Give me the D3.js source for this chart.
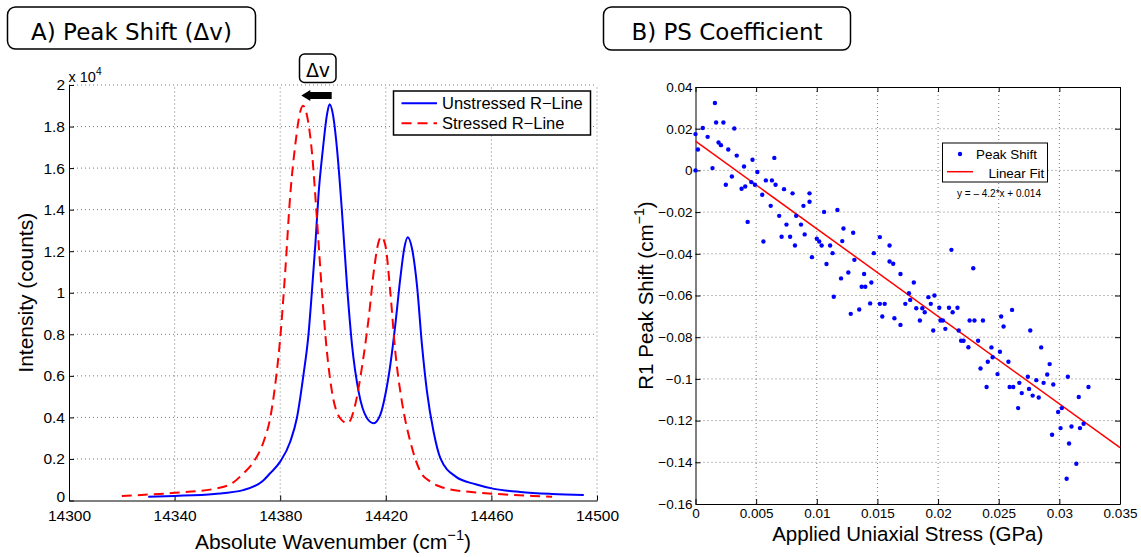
<!DOCTYPE html>
<html>
<head>
<meta charset="utf-8">
<script src="https://cdn.jsdelivr.net/npm/d3@7"></script>
<style>
  html, body { margin: 0; padding: 0; background: #fff; }
  svg { display: block; }
  text { font-family: "Liberation Sans", Arial, sans-serif; fill: #000; }
</style>
</head>
<body>
<script>
// A) spectra: wavenumber (cm^-1) vs intensity (counts)
const unstressedWn = [14330, 14340, 14355, 14366, 14373.5, 14376.2, 14380, 14383.8, 14386.3, 14388.8, 14390.7, 14392, 14393.3, 14394.5, 14396.2, 14397.7, 14398.7, 14400, 14401.5, 14403.4, 14405.3, 14407.2, 14409.7, 14412.9, 14415.4, 14417.9, 14419.8, 14421.7, 14423.6, 14425.5, 14427, 14428.3, 14429.9, 14431.8, 14433.7, 14435.6, 14438.1, 14440.7, 14446.5, 14454, 14461, 14471, 14483, 14495];
const unstressedCounts = [185, 222, 315, 500, 950, 1310, 1870, 2830, 3960, 6040, 7970, 10050, 12300, 14700, 16950, 18560, 19070, 18560, 16950, 13900, 10370, 7490, 5240, 3960, 3720, 4120, 5080, 6520, 8450, 10700, 12140, 12670, 12140, 10370, 7490, 5240, 3310, 2030, 1150, 780, 560, 410, 315, 260];
const stressedWn = [14320, 14340, 14355, 14362, 14366, 14370, 14373.7, 14376.2, 14378.1, 14380, 14381.9, 14383.8, 14385.7, 14387.6, 14388.6, 14390.1, 14392, 14393.9, 14395.8, 14397.7, 14399.6, 14402.7, 14405.5, 14408.4, 14410.9, 14413.5, 14415.6, 14417.3, 14418.3, 14419.8, 14421.7, 14423.6, 14426.1, 14429.3, 14433.1, 14436.9, 14440.7, 14443.6, 14452.3, 14464, 14475.7, 14483];
const stressedCounts = [222, 370, 560, 850, 1300, 1870, 2830, 3960, 5560, 7810, 11010, 14700, 17110, 18720, 19000, 18560, 16790, 13580, 10050, 7160, 5240, 3960, 3720, 4600, 6360, 8770, 11180, 12460, 12700, 12300, 10050, 7160, 4760, 2830, 1390, 905, 664, 555, 407, 297, 222, 185];
const wnTicks = [14300, 14340, 14380, 14420, 14460, 14500];
const countTicks = [0, 0.2, 0.4, 0.6, 0.8, 1, 1.2, 1.4, 1.6, 1.8, 2]; // x 10^4
const countTickLabels = ["0", "0.2", "0.4", "0.6", "0.8", "1", "1.2", "1.4", "1.6", "1.8", "2"];
// shift arrow (blue peak -> red peak)
const arrowFromWn = 14399.5, arrowToWn = 14388, arrowCounts = 19500;

// B) R1 peak shift vs applied stress
const stress = [0, 0.0002, 0, 0.0006, 0.001, 0.0016, 0.0017, 0.0019, 0.0021, 0.0023, 0.0014, 0.0027, 0.0025, 0.003, 0.0032, 0.0034, 0.0038, 0.004, 0.0041, 0.0043, 0.0046, 0.0047, 0.0049, 0.0051, 0.0055, 0.0056, 0.0058, 0.0063, 0.0065, 0.0062, 0.0066, 0.0069, 0.0073, 0.0075, 0.0071, 0.0078, 0.008, 0.0082, 0.0083, 0.0087, 0.0089, 0.009, 0.0094, 0.0094, 0.0096, 0.01, 0.0102, 0.0104, 0.0106, 0.0108, 0.0111, 0.0113, 0.0117, 0.0121, 0.0122, 0.012, 0.0126, 0.013, 0.0131, 0.0139, 0.0147, 0.0152, 0.016, 0.016, 0.0163, 0.0169,
  0.0114, 0.0128, 0.0135, 0.0137, 0.014, 0.0144, 0.0145,
  0.018, 0.0211, 0.0229, 0.0152, 0.0156, 0.0154, 0.0164, 0.0169, 0.0173, 0.0176, 0.0177, 0.0182, 0.0185, 0.0187, 0.0189, 0.0192, 0.0194, 0.0196, 0.0197, 0.0201, 0.0202, 0.0204, 0.0206, 0.0209, 0.0212, 0.0216, 0.0217, 0.0219, 0.0221, 0.0225, 0.0226, 0.023, 0.0233, 0.0237, 0.0235, 0.024, 0.0241, 0.0244, 0.0245, 0.0249, 0.0251, 0.0252, 0.0254, 0.0261, 0.0258, 0.0259, 0.0262, 0.0266, 0.0267, 0.0269, 0.0274, 0.0275, 0.0276, 0.0278, 0.0281, 0.0283, 0.0285, 0.0287, 0.029, 0.0292, 0.0294, 0.0295, 0.0299, 0.0301, 0.0302, 0.0306, 0.0307, 0.0308, 0.031, 0.0314, 0.0316, 0.0317, 0.032, 0.0324];
const peakShift = [0.0174, 0.01, 0, 0.0203, 0.0161, 0.0323, 0.023, 0.0134, 0.0121, 0.023, 0.0011, 0.01, -0.0069, -0.0029, 0.0201, 0.0071, -0.0088, 0.0019, -0.0077, -0.0247, -0.0056, 0.0051, -0.0069, -0.0008, -0.0117, -0.0341, -0.0048, -0.0048, 0.006, -0.017, -0.0069, -0.0218, -0.009, -0.026, -0.0318, -0.0318, -0.011, -0.036, -0.0218, -0.026, -0.017, -0.0307, -0.011, -0.015, -0.0416, -0.0328, -0.0341, -0.036, -0.0199, -0.0449, -0.036, -0.0397, -0.019, -0.0339, -0.0279, -0.0518, -0.049, -0.0299, -0.0429, -0.0497, -0.0397, -0.032, -0.036, -0.0437, -0.0448, -0.0497,
  -0.0606, -0.0688, -0.0667, -0.0558, -0.0558, -0.0638, -0.0538,
  -0.0538, -0.0381, -0.0469, -0.064, -0.064, -0.0701, -0.0709, -0.0741, -0.064, -0.0589, -0.0621, -0.0661, -0.072, -0.0661, -0.068, -0.0608, -0.064, -0.0768, -0.06, -0.0659, -0.072, -0.072, -0.076, -0.0659, -0.068, -0.0659, -0.0768, -0.0817, -0.0817, -0.0848, -0.072, -0.072, -0.0817, -0.072, -0.095, -0.1039, -0.0918, -0.0849, -0.0896, -0.0977, -0.087, -0.0701, -0.0749, -0.0669, -0.0918, -0.1039, -0.1039, -0.114, -0.1019, -0.1068, -0.099, -0.1048, -0.0768, -0.108, -0.1006, -0.1089, -0.0849, -0.1019, -0.0979, -0.0929, -0.1268, -0.1027, -0.1159, -0.1236, -0.114, -0.1479, -0.099, -0.131, -0.1228, -0.1407, -0.1087, -0.1236, -0.1215, -0.1039];
const fitStress = [0, 0.035];
const fitShift = [0.014, -0.133];
const stressTicks = [0, 0.005, 0.01, 0.015, 0.02, 0.025, 0.03, 0.035];
const stressTickLabels = ["0", "0.005", "0.01", "0.015", "0.02", "0.025", "0.03", "0.035"];
const shiftTicks = [-0.16, -0.14, -0.12, -0.1, -0.08, -0.06, -0.04, -0.02, 0, 0.02, 0.04];
const shiftTickLabels = ["\u22120.16", "\u22120.14", "\u22120.12", "\u22120.1", "\u22120.08", "\u22120.06", "\u22120.04", "\u22120.02", "0", "0.02", "0.04"];

const W = 1141, H = 557;
const BLUE = "#0000ff", RED = "#ff0000", GRID = "#7a7a7a";

const svg = d3.select("body").append("svg").attr("width", W).attr("height", H);

// title boxes
[
  { x: 7.5, y: 7, w: 248, h: 42, label: "A) Peak Shift (Δv)" },
  { x: 603.5, y: 7, w: 247, h: 43, label: "B) PS Coefficient" },
].forEach((b) => {
  svg.append("rect")
    .attr("x", b.x).attr("y", b.y).attr("width", b.w).attr("height", b.h)
    .attr("rx", 8).attr("fill", "#fff").attr("stroke", "#000").attr("stroke-width", 1.5);
  svg.append("text")
    .attr("x", b.x + b.w / 2).attr("y", 39.5)
    .attr("text-anchor", "middle")
    .style("font-family", "'DejaVu Sans', sans-serif")
    .style("font-size", "23px")
    .text(b.label);
});

function styleAxis(g, size) {
  g.attr("font-family", "'Liberation Sans', Arial, sans-serif").attr("font-size", size);
  g.select(".domain").attr("stroke", "#000").attr("stroke-width", 1);
  g.selectAll(".tick line").attr("stroke", "#000");
  g.selectAll(".tick text").attr("fill", "#000");
}

function supLabel(sel, before, sup, after, size) {
  sel.style("font-size", size + "px");
  sel.append("tspan").text(before);
  sel.append("tspan").attr("dy", -size * 0.45).style("font-size", (size * 0.7) + "px").text(sup);
  sel.append("tspan").attr("dy", size * 0.45).text(after);
}

// ---------- panel A ----------
const xA = d3.scaleLinear().domain([14300, 14500]).range([69, 597]);
const yA = d3.scaleLinear().domain([0, 20000]).range([500.5, 85]);
const gA = svg.append("g");

gA.selectAll(".vgridA").data(wnTicks.slice(1)).join("line")
  .attr("x1", (d) => xA(d)).attr("x2", (d) => xA(d))
  .attr("y1", yA(0)).attr("y2", yA(20000))
  .attr("stroke", GRID).attr("stroke-dasharray", "1,3");
gA.selectAll(".hgridA").data(countTicks.slice(1)).join("line")
  .attr("x1", xA(14300)).attr("x2", xA(14500))
  .attr("y1", (d) => yA(d * 1e4)).attr("y2", (d) => yA(d * 1e4))
  .attr("stroke", GRID).attr("stroke-dasharray", "1,3");

gA.append("g")
  .attr("transform", `translate(0,${yA(0)})`)
  .call(d3.axisBottom(xA).tickValues(wnTicks).tickFormat(d3.format("d"))
    .tickSizeInner(-5).tickSizeOuter(0).tickPadding(9))
  .call((g) => styleAxis(g, 15.5));
gA.append("g")
  .attr("transform", `translate(${xA(14300)},0)`)
  .call(d3.axisLeft(yA).tickValues(countTicks.map((v) => v * 1e4))
    .tickFormat((d, i) => countTickLabels[i])
    .tickSizeInner(-5).tickSizeOuter(0).tickPadding(4))
  .call((g) => styleAxis(g, 15.5))
  .call((g) => g.selectAll(".tick text").filter((d) => d === 0).attr("dy", "0.05em"));

// x 10^4
const mult = gA.append("text").attr("x", 68.5).attr("y", 82);
supLabel(mult, "x 10", "4", "", 14.5);

const lineA = d3.line().x((d) => xA(d[0])).y((d) => yA(d[1])).curve(d3.curveMonotoneX);
gA.append("path")
  .datum(d3.zip(unstressedWn, unstressedCounts))
  .attr("fill", "none").attr("stroke", BLUE).attr("stroke-width", 2)
  .attr("d", lineA);
gA.append("path")
  .datum(d3.zip(stressedWn, stressedCounts))
  .attr("fill", "none").attr("stroke", RED).attr("stroke-width", 2)
  .attr("stroke-dasharray", "10,6")
  .attr("d", lineA);

// legend A
gA.append("rect").attr("x", 393.5).attr("y", 91).attr("width", 197).attr("height", 44)
  .attr("fill", "#fff").attr("stroke", "#000").attr("stroke-width", 1.5);
[
  { label: "Unstressed R\u2212Line", color: BLUE, dash: null, y: 103.3 },
  { label: "Stressed R\u2212Line", color: RED, dash: "10,6", y: 123.3 },
].forEach((l) => {
  gA.append("line").attr("x1", 401.5).attr("x2", 437).attr("y1", l.y).attr("y2", l.y)
    .attr("stroke", l.color).attr("stroke-width", 2).attr("stroke-dasharray", l.dash);
  gA.append("text").attr("x", 442).attr("y", l.y + 5.5)
    .style("font-size", "16.5px").text(l.label);
});

// Δv annotation + arrow
gA.append("rect").attr("x", 299.5).attr("y", 54).attr("width", 36.5).attr("height", 28.5)
  .attr("rx", 5).attr("fill", "#fff").attr("stroke", "#000").attr("stroke-width", 1.5);
gA.append("text").attr("x", 318).attr("y", 77)
  .attr("text-anchor", "middle")
  .style("font-family", "'DejaVu Sans', sans-serif").style("font-size", "19px")
  .text("Δv");
const ax0 = xA(arrowToWn), ax1 = xA(arrowFromWn), ay = yA(arrowCounts);
gA.append("path")
  .attr("d", `M${ax0},${ay} L${ax0 + 9},${ay - 5.5} L${ax0 + 9},${ay - 3.5} L${ax1},${ay - 3.5} L${ax1},${ay + 3.5} L${ax0 + 9},${ay + 3.5} L${ax0 + 9},${ay + 5.5} Z`)
  .attr("fill", "#000");

// axis labels A
const xlabA = gA.append("text").attr("x", (xA(14300) + xA(14500)) / 2).attr("y", 549)
  .attr("text-anchor", "middle");
supLabel(xlabA, "Absolute Wavenumber (cm", "\u22121", ")", 21);
gA.append("text")
  .attr("transform", `translate(33,${(yA(0) + yA(20000)) / 2}) rotate(-90)`)
  .attr("text-anchor", "middle")
  .style("font-size", "21px")
  .text("Intensity (counts)");

// ---------- panel B ----------
const xB = d3.scaleLinear().domain([0, 0.035]).range([695.5, 1120]);
const yB = d3.scaleLinear().domain([-0.16, 0.04]).range([504, 87]);
const gB = svg.append("g");

gB.selectAll(".vgridB").data(stressTicks.slice(1, -1)).join("line")
  .attr("x1", (d) => xB(d)).attr("x2", (d) => xB(d))
  .attr("y1", yB(-0.16)).attr("y2", yB(0.04))
  .attr("stroke", GRID).attr("stroke-dasharray", "1,3");
gB.selectAll(".hgridB").data(shiftTicks.slice(1, -1)).join("line")
  .attr("x1", xB(0)).attr("x2", xB(0.035))
  .attr("y1", (d) => yB(d)).attr("y2", (d) => yB(d))
  .attr("stroke", GRID).attr("stroke-dasharray", "1,3");

gB.append("g")
  .attr("transform", `translate(0,${yB(-0.16)})`)
  .call(d3.axisBottom(xB).tickValues(stressTicks).tickFormat((d, i) => stressTickLabels[i])
    .tickSizeInner(-5).tickSizeOuter(0).tickPadding(4))
  .call((g) => styleAxis(g, 13.5));
gB.append("g")
  .attr("transform", `translate(${xB(0)},0)`)
  .call(d3.axisLeft(yB).tickValues(shiftTicks).tickFormat((d, i) => shiftTickLabels[i])
    .tickSizeInner(-5).tickSizeOuter(0).tickPadding(3))
  .call((g) => styleAxis(g, 13.5));
gB.append("g")
  .attr("transform", `translate(0,${yB(0.04)})`)
  .call(d3.axisTop(xB).tickValues(stressTicks).tickFormat("")
    .tickSizeInner(-5).tickSizeOuter(0))
  .call((g) => styleAxis(g, 13.5));
gB.append("g")
  .attr("transform", `translate(${xB(0.035)},0)`)
  .call(d3.axisRight(yB).tickValues(shiftTicks).tickFormat("")
    .tickSizeInner(-5).tickSizeOuter(0))
  .call((g) => styleAxis(g, 13.5));

gB.append("path")
  .datum(d3.zip(fitStress, fitShift))
  .attr("fill", "none").attr("stroke", RED).attr("stroke-width", 1.5)
  .attr("d", d3.line().x((d) => xB(d[0])).y((d) => yB(d[1])));

gB.selectAll(".pt").data(d3.zip(stress, peakShift)).join("circle")
  .attr("cx", (d) => xB(d[0])).attr("cy", (d) => yB(d[1]))
  .attr("r", 2.2).attr("fill", BLUE);

// legend B
gB.append("rect").attr("x", 942.5).attr("y", 143).attr("width", 105).attr("height", 39)
  .attr("fill", "#fff").attr("stroke", "#000").attr("stroke-width", 1);
gB.append("circle").attr("cx", 960).attr("cy", 154).attr("r", 2.2).attr("fill", BLUE);
gB.append("text").attr("x", 976).attr("y", 158.5).style("font-size", "13.4px").text("Peak Shift");
gB.append("line").attr("x1", 947).attr("x2", 973).attr("y1", 171.7).attr("y2", 171.7)
  .attr("stroke", RED).attr("stroke-width", 1.5);
gB.append("text").attr("x", 988.5).attr("y", 177.7).style("font-size", "13.4px").text("Linear Fit");
gB.append("text").attr("x", 999).attr("y", 196.7).attr("text-anchor", "middle")
  .style("font-size", "10px").text("y = \u2013 4.2*x + 0.014");

// axis labels B
gB.append("text").attr("x", (xB(0) + xB(0.035)) / 2).attr("y", 540.5)
  .attr("text-anchor", "middle").style("font-size", "20.5px")
  .text("Applied Uniaxial Stress (GPa)");
const ylabB = gB.append("text")
  .attr("transform", `translate(653,${(yB(-0.16) + yB(0.04)) / 2}) rotate(-90)`)
  .attr("text-anchor", "middle");
supLabel(ylabB, "R1 Peak Shift (cm", "\u22121", ")", 20.5);
</script>
</body>
</html>
